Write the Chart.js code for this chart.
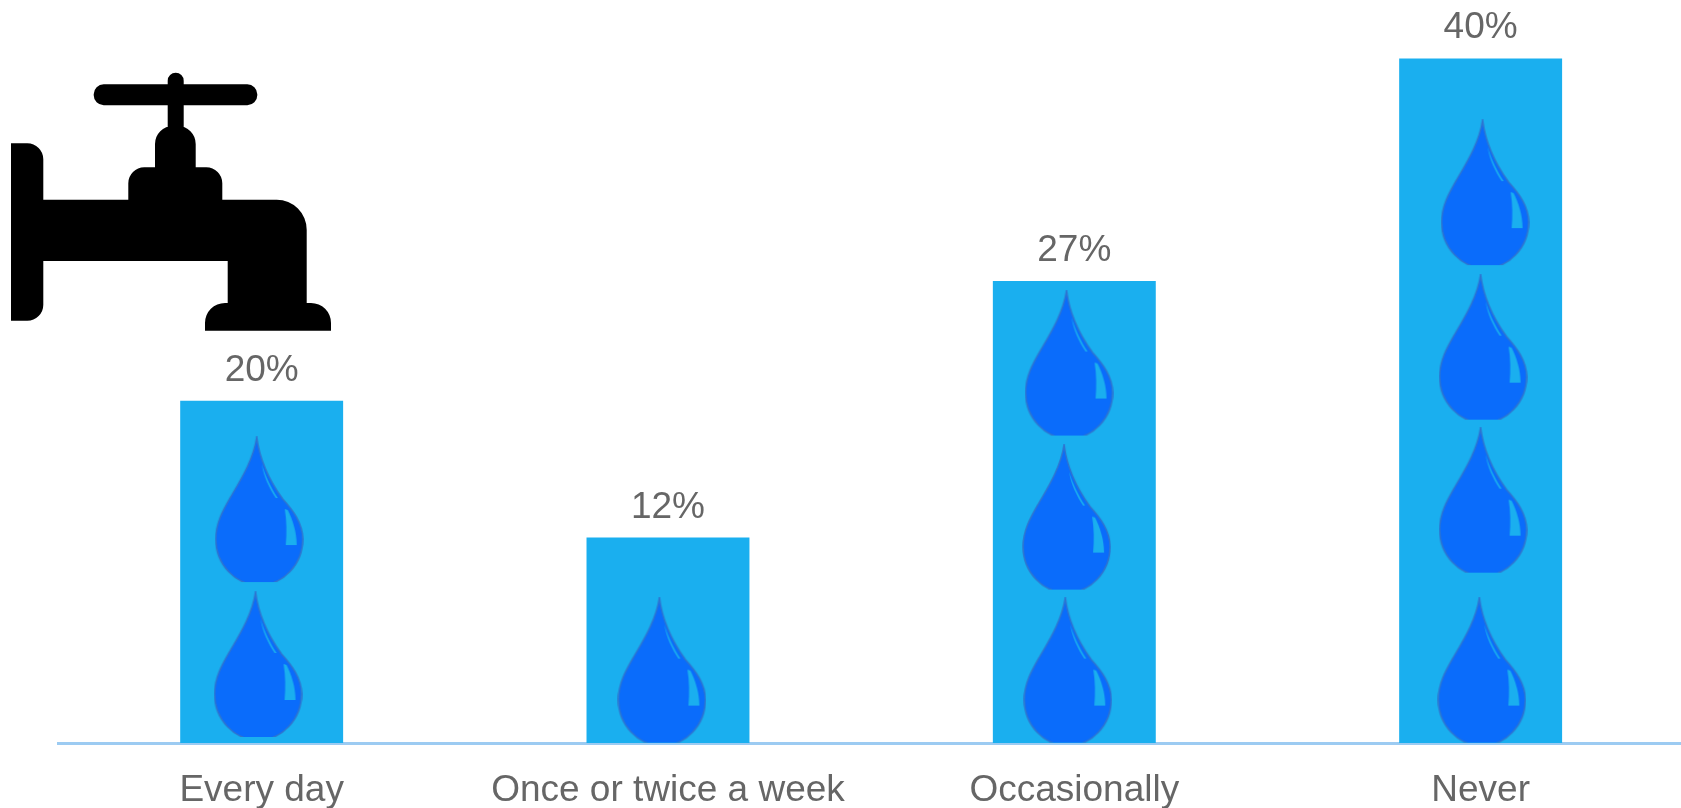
<!DOCTYPE html>
<html>
<head>
<meta charset="utf-8">
<script src="https://cdn.jsdelivr.net/npm/chart.js@4"></script>
<style>
  html, body { margin: 0; padding: 0; background: #fff; overflow: hidden; }
  #wrap { width: 1681px; height: 808px; overflow: hidden; }
  canvas { display: block; }
</style>
</head>
<body>
<div id="wrap"><canvas id="chart" width="1684" height="808"></canvas></div>
<script>
// Share of respondents per answer
const categories = ['Every day', 'Once or twice a week', 'Occasionally', 'Never'];
const shares = [20, 12, 27, 40];

// Water drops stacked inside the bars: column position and height in value units
const dropColumns = [-0.006, -0.009, 0.985, 1.987, 1.981, 1.984, 3.011, 3.006, 3.006, 3.003];
const dropLevels = [13.64, 4.59, 4.26, 22.2, 13.2, 4.26, 32.16, 23.13, 14.19, 4.26];

const BAR_BLUE = '#1aafef';
const TEXT_GREY = '#666666';
const FONT = '"Liberation Sans", Arial, sans-serif';

// Teardrop icon, flat where its lower edge is cropped, with two glints in the bar colour
function makeDropIcon() {
  const c = document.createElement('canvas');
  c.width = 89; c.height = 147;
  const g = c.getContext('2d');
  g.translate(1, 1);
  g.save();
  g.beginPath();
  g.rect(-1, -1, 89, 146);
  g.clip();
  g.beginPath();
  g.moveTo(41, 0);
  g.bezierCurveTo(44, 24, 54, 44, 67, 62);
  g.bezierCurveTo(77, 73, 87, 86, 87, 102);
  g.bezierCurveTo(87, 127.4, 67.5, 148, 43.5, 148);
  g.bezierCurveTo(19.5, 148, 0, 127.4, 0, 102);
  g.bezierCurveTo(0, 85, 8, 72, 16, 58);
  g.bezierCurveTo(28, 38, 38, 20, 41, 0);
  g.closePath();
  g.fillStyle = '#0a6cfb';
  g.fill();
  g.lineWidth = 1.5;
  g.strokeStyle = '#2f74cf';
  g.stroke();
  g.restore();

  g.beginPath();
  g.moveTo(46, 27);
  g.bezierCurveTo(50, 40, 55, 50, 62, 61);
  g.lineTo(60, 61);
  g.bezierCurveTo(53, 50, 48, 40, 46, 27);
  g.closePath();
  g.fillStyle = BAR_BLUE;
  g.fill();

  g.beginPath();
  g.moveTo(69, 72);
  g.lineTo(72, 73);
  g.bezierCurveTo(77, 83, 81, 95, 81, 108);
  g.lineTo(70, 108);
  g.bezierCurveTo(71, 96, 71, 84, 69, 72);
  g.closePath();
  g.fill();
  return c;
}

function roundedBox(p, x0, y0, x1, y1, rTop, rBottom) {
  p.moveTo(x0 + rTop, y0);
  p.lineTo(x1 - rTop, y0);
  p.arcTo(x1, y0, x1, y0 + rTop, rTop);
  p.lineTo(x1, y1 - rBottom);
  p.arcTo(x1, y1, x1 - rBottom, y1, rBottom);
  p.lineTo(x0 + rBottom, y1);
  p.arcTo(x0, y1, x0, y1 - rBottom, rBottom);
  p.lineTo(x0, y0 + rTop);
  p.arcTo(x0, y0, x0 + rTop, y0, rTop);
  p.closePath();
}

// Tap silhouette in the upper-left corner of the canvas
const tapPlugin = {
  id: 'tap',
  afterDraw(chart) {
    const ctx = chart.ctx;
    const p = new Path2D();
    // handle, stem, and the two stepped collars
    roundedBox(p, 93.7, 84.3, 257.3, 105.3, 10, 10);
    roundedBox(p, 167.7, 72.7, 183.7, 135, 8, 0);
    roundedBox(p, 155, 126, 195.7, 175, 18, 0);
    roundedBox(p, 128.3, 167.3, 222.3, 205, 16, 0);
    // wall flange, cut off on its left side
    p.moveTo(11, 143.3);
    p.lineTo(27, 143.3);
    p.arcTo(43.3, 143.3, 43.3, 160, 16);
    p.lineTo(43.3, 304);
    p.arcTo(43.3, 320.7, 27, 320.7, 16);
    p.lineTo(11, 320.7);
    p.closePath();
    // horizontal pipe bending down into the spout
    p.moveTo(40, 199.7);
    p.lineTo(276, 199.7);
    p.arcTo(306.7, 199.7, 306.7, 230, 30);
    p.lineTo(306.7, 310);
    p.lineTo(227.7, 310);
    p.lineTo(227.7, 261);
    p.lineTo(40, 261);
    p.closePath();
    // spout mouth
    p.moveTo(205, 330.7);
    p.lineTo(205, 323);
    p.arcTo(205, 303, 225, 303, 20);
    p.lineTo(311, 303);
    p.arcTo(331, 303, 331, 323, 20);
    p.lineTo(331, 330.7);
    p.closePath();
    ctx.save();
    ctx.fillStyle = '#000';
    ctx.fill(p);
    ctx.restore();
  }
};

// Percentage above each bar
const valueLabelPlugin = {
  id: 'valueLabels',
  afterDatasetsDraw(chart) {
    const ctx = chart.ctx;
    const meta = chart.getDatasetMeta(0);
    ctx.save();
    ctx.font = '37px ' + FONT;
    ctx.fillStyle = TEXT_GREY;
    ctx.textAlign = 'center';
    ctx.textBaseline = 'alphabetic';
    meta.data.forEach((bar, i) => {
      ctx.fillText(shares[i] + '%', bar.x, bar.y - 20);
    });
    ctx.restore();
  }
};

new Chart(document.getElementById('chart'), {
  type: 'bar',
  data: {
    labels: categories,
    datasets: [
      {
        data: shares,
        backgroundColor: BAR_BLUE,
        barPercentage: 0.401,
        categoryPercentage: 1,
        grouped: false,
        order: 2
      },
      {
        type: 'scatter',
        data: dropColumns.map((x, i) => ({ x, y: dropLevels[i] })),
        xAxisID: 'xDrops',
        pointStyle: makeDropIcon(),
        // the icon sets the drawn size; tiny radii keep the layout from reserving room
        pointRadius: 0.2,
        pointHoverRadius: 0,
        pointBorderWidth: 0,
        pointHoverBorderWidth: 0,
        showLine: false,
        clip: false,
        order: 1
      }
    ]
  },
  options: {
    responsive: false,
    animation: false,
    layout: { padding: { left: 58.5, right: 0, top: 0, bottom: 0 } },
    plugins: { legend: { display: false }, tooltip: { enabled: false } },
    scales: {
      x: {
        type: 'category',
        offset: true,
        grid: { display: false },
        border: { display: true, color: '#9ccbf2', width: 3 },
        ticks: {
          color: TEXT_GREY,
          font: { family: FONT, size: 37 },
          padding: 18,
          autoSkip: false,
          maxRotation: 0
        },
        afterFit(scale) { scale.height = 65; }
      },
      xDrops: { type: 'linear', display: false, offset: false, min: -0.5, max: 3.5 },
      y: { display: false, min: 0, max: 43.4 }
    }
  },
  plugins: [valueLabelPlugin, tapPlugin]
});
</script>
</body>
</html>
